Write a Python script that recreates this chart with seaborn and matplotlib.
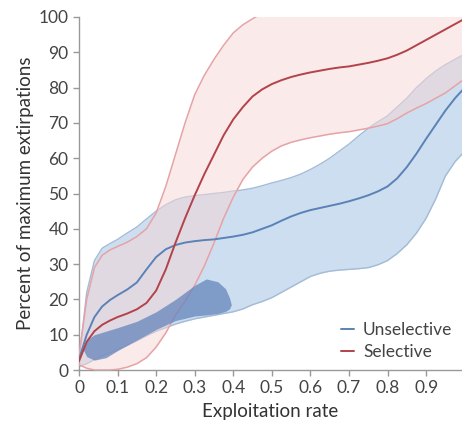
import seaborn as sns
import pandas as pd
import matplotlib.pyplot as plt

rate = [0, 0.02, 0.04, 0.06, 0.08, 0.1, 0.125, 0.15, 0.175, 0.2, 0.225, 0.25,
        0.275, 0.3, 0.325, 0.35, 0.375, 0.4, 0.425, 0.45, 0.475, 0.5, 0.525,
        0.55, 0.575, 0.6, 0.625, 0.65, 0.675, 0.7, 0.725, 0.75, 0.775, 0.8,
        0.825, 0.85, 0.875, 0.9, 0.925, 0.95, 0.975, 1.0]

sel_mean = [2.5, 8, 11, 12.8, 14, 15, 16, 17.2, 19, 22.5, 28.5, 36,
            43, 49.5, 55.5, 61, 66.5, 71, 74.5, 77.5, 79.5, 81, 82.1,
            83, 83.7, 84.3, 84.8, 85.3, 85.7, 86, 86.5, 87, 87.6, 88.3,
            89.3, 90.5, 92, 93.5, 95, 96.5, 98, 99.5]
sel_low = [1.5, 0.5, 0, 0, 0, 0.2, 0.8, 1.8, 3.5, 6.5, 10.5, 15.5,
           19.5, 24, 29.5, 36, 43, 49, 54, 57.5, 60, 62, 63.5,
           64.5, 65.2, 65.8, 66.3, 66.8, 67.2, 67.5, 68, 68.5, 69.1, 69.8,
           71.2, 72.8, 74.2, 75.5, 77, 78.5, 80.5, 82.5]
sel_high = [4, 20, 29, 32.5, 34, 35, 36.2, 37.8, 40, 44.5, 52, 61,
            70, 78, 83.5, 88, 92, 95.5, 97.8, 99.5, 101, 102, 103,
            104, 104.5, 105, 105.5, 106, 106.5, 107, 107.5, 108, 108.5, 109,
            109.5, 110, 110, 110, 110, 110, 110, 110]

uns_mean = [3, 10, 15, 18, 19.8, 21.2, 22.8, 24.8, 28.5, 32, 34.2, 35.4,
            36.1, 36.5, 36.8, 37, 37.4, 37.8, 38.3, 39, 40, 41, 42.3,
            43.5, 44.5, 45.3, 45.9, 46.5, 47.1, 47.8, 48.6, 49.5, 50.6, 52,
            54.3, 57.5, 61.3, 65.5, 69.5, 73.5, 77, 80]
uns_low = [1, 1.8, 3, 4, 4.8, 5.8, 7, 8.3, 9.7, 11, 12, 13,
           13.8, 14.5, 15, 15.5, 16, 16.5, 17.3, 18.5, 19.4, 20.5, 22,
           23.5, 25, 26.5, 27.4, 28, 28.3, 28.5, 28.7, 29, 29.8, 31,
           33, 35.5, 38.8, 43, 48.5, 55, 59, 62]
uns_high = [3, 22, 31, 34.5, 35.8, 37, 38.8, 40.5, 42.8, 45, 46.8, 48.2,
            49, 49.4, 49.7, 50, 50.3, 50.7, 51, 51.5, 52.2, 53, 53.7,
            54.5, 55.5, 56.8, 58.3, 60, 62, 64, 66.3, 68.5, 70.3, 72,
            74.5, 77, 80, 82.5, 84.7, 86.5, 88, 89.5]

# darker blob of the unselective runs
blob_x = [0.01, 0.02, 0.04, 0.07, 0.1, 0.15, 0.2, 0.25, 0.3, 0.33, 0.36, 0.38, 0.39, 0.395]
blob_top = [6, 8.5, 10, 11, 12, 13.8, 16.5, 20, 24, 25.8, 25, 23, 20.5, 18.5]
blob_bot = [6, 3.8, 2.8, 3.5, 5.5, 8.5, 11.5, 14, 15.3, 15.6, 16, 16.6, 17.3, 18.5]

blue = "#5a82b6"
red = "#b3424a"

df = pd.DataFrame({"rate": rate * 2,
                   "pct": uns_mean + sel_mean,
                   "type": ["Unselective"] * len(rate) + ["Selective"] * len(rate)})

sns.set_theme(style="ticks")
plt.rcParams["font.family"] = ["Lato", "DejaVu Sans"]

fig = plt.figure(figsize=(4.62, 4.30), dpi=100)
ax = fig.add_axes([0.171, 0.1395, 0.829, 0.821])

ax.fill_between(rate, uns_low, uns_high, color="#bcd3ea", alpha=0.75, lw=0, zorder=1)
ax.plot(rate, uns_low, color="#a3bbd6", lw=1, zorder=2)
ax.plot(rate, uns_high, color="#a3bbd6", lw=1, zorder=2)
ax.fill_between(rate, sel_low, sel_high, color="#f6d6d6", alpha=0.5, lw=0, zorder=3)
ax.plot(rate, sel_low, color="#e6a3a6", lw=1.1, zorder=4)
ax.plot(rate, sel_high, color="#e6a3a6", lw=1.1, zorder=4)
ax.fill_between(blob_x, blob_bot, blob_top, color="#6585bb", alpha=0.75, lw=0, zorder=5)

sns.lineplot(data=df, x="rate", y="pct", hue="type",
             palette={"Unselective": blue, "Selective": red},
             lw=1.4, ax=ax, zorder=6)

ax.set_xlim(0, 0.993)
ax.set_ylim(0, 100)
ax.set_xticks([0, 0.1, 0.2, 0.3, 0.4, 0.5, 0.6, 0.7, 0.8, 0.9])
ax.set_xticklabels(["0", "0.1", "0.2", "0.3", "0.4", "0.5", "0.6", "0.7", "0.8", "0.9"])
ax.set_yticks(range(0, 101, 10))
ax.tick_params(colors="#999999", labelcolor="#444444", labelsize=12.5, length=4, width=1)
ax.set_xlabel("Exploitation rate", fontsize=13.5, color="#333333", labelpad=5)
ax.set_ylabel("Percent of maximum extirpations", fontsize=13.5, color="#333333", labelpad=3)
sns.despine(ax=ax)
for s in ["left", "bottom"]:
    ax.spines[s].set_color("#999999")
    ax.spines[s].set_linewidth(1)

leg = ax.legend(loc="lower right", frameon=False, fontsize=12.5, handlelength=0.8,
                handletextpad=0.5, labelspacing=0.35, borderaxespad=0.15)
for t in leg.get_texts():
    t.set_color("#444444")

fig.savefig("out.png", dpi=100)
